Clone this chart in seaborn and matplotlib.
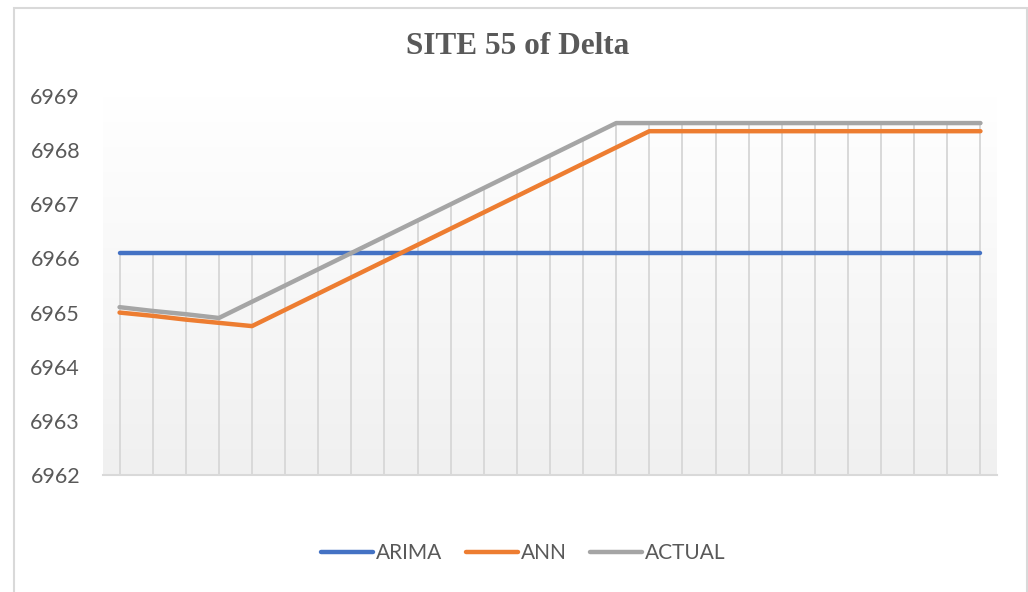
import matplotlib.pyplot as plt
import matplotlib.patches as mpatches
from matplotlib.colors import LinearSegmentedColormap
from matplotlib.lines import Line2D
import numpy as np
import pandas as pd
import seaborn as sns

# data (27 unlabeled points)
arima = [6966.1] * 27
ann = [6965.0, 6964.94, 6964.87, 6964.81, 6964.75, 6965.05, 6965.35, 6965.65,
       6965.95, 6966.25, 6966.55, 6966.85, 6967.15, 6967.45, 6967.75, 6968.05,
       6968.35, 6968.35, 6968.35, 6968.35, 6968.35, 6968.35, 6968.35, 6968.35,
       6968.35, 6968.35, 6968.35]
actual = [6965.1, 6965.03, 6964.97, 6964.9, 6965.2, 6965.5, 6965.8, 6966.1,
          6966.4, 6966.7, 6967.0, 6967.3, 6967.6, 6967.9, 6968.2, 6968.5,
          6968.5, 6968.5, 6968.5, 6968.5, 6968.5, 6968.5, 6968.5, 6968.5,
          6968.5, 6968.5, 6968.5]
series_names = ['ARIMA', 'ANN', 'ACTUAL']
y_ticks = [6962, 6963, 6964, 6965, 6966, 6967, 6968, 6969]

colors = {'ARIMA': '#4472C4', 'ANN': '#ED7D31', 'ACTUAL': '#A5A5A5'}
text_col = '#595959'
grid_col = '#d9d9d9'

#%%
wide = pd.DataFrame({'ARIMA': arima, 'ANN': ann, 'ACTUAL': actual})
wide['idx'] = range(len(wide))
df = wide.melt(id_vars='idx', var_name='series', value_name='value')

sns.set_style('white')
plt.rcParams['font.family'] = ['Lato', 'DejaVu Sans']

fig = plt.figure(figsize=(10.28, 5.92), dpi=100)
ax = fig.add_axes([103 / 1028, 1 - 475 / 592, (997 - 103) / 1028, (475 - 96) / 592])

n = len(wide)
ax.set_xlim(-0.5, n - 0.5)
ax.set_ylim(y_ticks[0], y_ticks[-1])

# gradient plot-area fill
grad = np.linspace(1, 0, 256).reshape(-1, 1)
ax.imshow(grad, extent=(-0.5, n - 0.5, y_ticks[0], y_ticks[-1]), aspect='auto',
          cmap=LinearSegmentedColormap.from_list('g', ['#f0f0f0', '#ffffff']),
          origin='upper', zorder=0)

# drop lines from highest series down to the axis
top = wide[series_names].max(axis=1)
ax.vlines(wide['idx'], y_ticks[0], top, color=grid_col, lw=1.4, zorder=1)

sns.lineplot(data=df, x='idx', y='value', hue='series', hue_order=series_names,
             palette=colors, lw=3.2, legend=False, ax=ax, zorder=3)

for s in ['top', 'right', 'left']:
    ax.spines[s].set_visible(False)
ax.spines['bottom'].set_color(grid_col)
ax.spines['bottom'].set_linewidth(1.5)

ax.set_xticks(np.arange(-0.5, n, 1.0))
ax.set_xticklabels([])
ax.tick_params(axis='x', length=5, width=1.2, color=grid_col, direction='out')
ax.set_yticks(y_ticks)
ax.set_yticklabels([str(v) for v in y_ticks])
ax.tick_params(axis='y', length=0, pad=16.5, labelsize=15.5, labelcolor=text_col)
ax.set_xlabel('')
ax.set_ylabel('')

fig.text(0.504, 1 - 46 / 592, 'SITE 55 of Delta', ha='center', va='center',
         family='Liberation Serif', weight='bold', size=22.5, color=text_col)

handles = [Line2D([0], [0], color=colors[s], lw=3.2) for s in series_names]
leg = fig.legend(handles, series_names, loc='center', bbox_to_anchor=(0.509, 1 - 553 / 592),
                 ncol=3, frameon=False, fontsize=15, handlelength=2.5, handletextpad=0.15,
                 columnspacing=1.1)
for t in leg.get_texts():
    t.set_color(text_col)

# chart-area border
fig.patches.append(mpatches.Rectangle((14 / 1028, -0.05), (1027 - 14) / 1028, 1.05 - 8 / 592,
                                      transform=fig.transFigure, fill=False,
                                      edgecolor=grid_col, lw=1.5))

fig.savefig('out.png', dpi=100)
